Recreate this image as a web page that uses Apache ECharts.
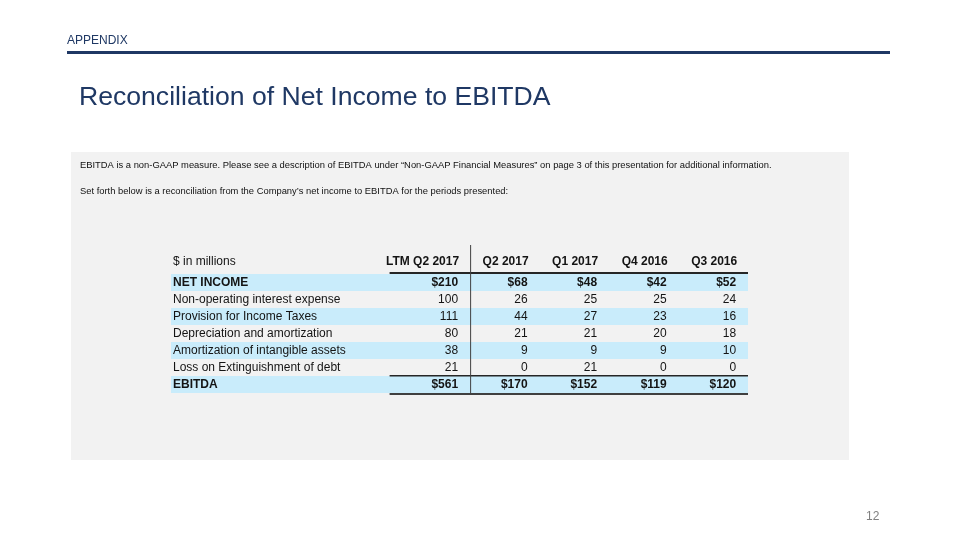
<!DOCTYPE html>
<html>
<head>
<meta charset="utf-8">
<script src="https://cdn.jsdelivr.net/npm/echarts@6/dist/echarts.min.js"></script>
<style>html,body{margin:0;padding:0;background:#fff}#c{width:960px;height:540px}</style>
</head>
<body>
<div id="c"></div>
<script>
// ---- data ----
var rowLabels = ['NET INCOME', 'Non-operating interest expense', 'Provision for Income Taxes',
  'Depreciation and amortization', 'Amortization of intangible assets',
  'Loss on Extinguishment of debt', 'EBITDA'];
var columnLabels = ['LTM Q2 2017', 'Q2 2017', 'Q1 2017', 'Q4 2016', 'Q3 2016'];
var ltmQ2_2017 = [210, 100, 111, 80, 38, 21, 561];
var q2_2017 = [68, 26, 44, 21, 9, 0, 170];
var q1_2017 = [48, 25, 27, 21, 9, 21, 152];
var q4_2016 = [42, 25, 23, 20, 9, 0, 119];
var q3_2016 = [52, 24, 16, 18, 10, 0, 120];
var unitLabel = '$ in millions';
var dollarRows = [0, 6];       // rows shown with $ and bold
var shadedRows = [0, 2, 4, 6]; // rows with blue band
var noteLines = [
  'EBITDA is a non-GAAP measure. Please see a description of EBITDA under \u201cNon-GAAP Financial Measures\u201d on page 3 of this presentation for additional information.',
  'Set forth below is a reconciliation from the Company\u2019s net income to EBITDA for the periods presented:'
];
var sectionLabel = 'APPENDIX';
var titleText = 'Reconciliation of Net Income to EBITDA';
var pageNumber = '12';

// ---- build ----
var columns = [ltmQ2_2017, q2_2017, q1_2017, q4_2016, q3_2016];
var FONT = '"Liberation Sans", Arial, sans-serif';
var NAVY = '#1f3864';
var TXT = '#141414';
var X_MIN = -3.13, X_MAX = 5.17;

var cellData = [];
columns.forEach(function (col, ci) {
  col.forEach(function (v, ri) { cellData.push([ci + 1, ri, v]); });
});

var chart = echarts.init(document.getElementById('c'), null, {renderer: 'canvas'});

function rowTop(api, ri) {
  var c = api.coord([X_MIN, ri]);
  return c[1] - api.size([0, 1])[1] / 2;
}

var option = {
  backgroundColor: '#ffffff',
  animation: false,
  graphic: [
    {type: 'rect', shape: {x: 71, y: 152, width: 778, height: 308}, style: {fill: '#f2f2f2'}, z: -10},
    {type: 'text', left: 67, top: 35, style: {text: sectionLabel, font: '12px ' + FONT, fill: NAVY}},
    {type: 'rect', shape: {x: 67, y: 51, width: 823, height: 3}, style: {fill: NAVY}},
    {type: 'text', left: 79, top: 84, style: {text: titleText, font: '26.6px ' + FONT, fill: NAVY}},
    {type: 'text', left: 80, top: 161, style: {text: noteLines[0], font: '9.4px ' + FONT, fill: '#111'}},
    {type: 'text', left: 80, top: 187, style: {text: noteLines[1], font: '9.4px ' + FONT, fill: '#111'}},
    {type: 'text', left: 866, top: 511, style: {text: pageNumber, font: '12px ' + FONT, fill: '#808080'}}
  ],
  grid: {left: 171, top: 274, width: 577, height: 119, containLabel: false},
  xAxis: {type: 'value', min: X_MIN, max: X_MAX, show: false},
  yAxis: {type: 'category', data: rowLabels, inverse: true, show: false},
  series: [
    { // shaded bands
      type: 'custom', z: 1,
      data: shadedRows.map(function (r) { return [X_MIN, r]; }),
      renderItem: function (params, api) {
        var r = api.value(1);
        var x0 = api.coord([X_MIN, r])[0], x1 = api.coord([X_MAX, r])[0];
        var h = api.size([0, 1])[1];
        return {type: 'rect', shape: {x: x0, y: rowTop(api, r), width: x1 - x0, height: h},
          style: {fill: '#c9ecfb'}};
      }
    },
    { // row labels
      type: 'custom', z: 3,
      data: rowLabels.map(function (l, i) { return [X_MIN, i]; }),
      renderItem: function (params, api) {
        var r = api.value(1);
        var p = api.coord([X_MIN, r]);
        var bold = dollarRows.indexOf(r) >= 0;
        return {type: 'text', x: p[0] + 2, y: p[1],
          style: {text: rowLabels[r], font: (bold ? 'bold ' : '') + '12px ' + FONT,
            fill: TXT, textAlign: 'left', textVerticalAlign: 'middle'}};
      }
    },
    { // values
      type: 'custom', z: 3,
      data: cellData,
      renderItem: function (params, api) {
        var c = api.value(0), r = api.value(1), v = api.value(2);
        var p = api.coord([c, r]);
        var bold = dollarRows.indexOf(r) >= 0;
        return {type: 'text', x: p[0], y: p[1],
          style: {text: (bold ? '$' : '') + v, font: (bold ? 'bold ' : '') + '12px ' + FONT,
            fill: TXT, textAlign: 'right', textVerticalAlign: 'middle'}};
      }
    },
    { // headers + rules
      type: 'custom', z: 4,
      data: [[X_MIN, 0]],
      renderItem: function (params, api) {
        var top = rowTop(api, 0);
        var h = api.size([0, 1])[1];
        var bottom = top + h * rowLabels.length;
        var xl = api.coord([X_MIN, 0])[0];
        var xr = api.coord([X_MAX, 0])[0];
        var xc0 = api.coord([0, 0])[0];
        var xv = api.coord([1, 0])[0] + 12;
        var ch = [];
        ch.push({type: 'text', x: xl + 2, y: top - 12,
          style: {text: unitLabel, font: '12px ' + FONT, fill: TXT, textAlign: 'left', textVerticalAlign: 'middle'}});
        columnLabels.forEach(function (lab, i) {
          ch.push({type: 'text', x: api.coord([i + 1, 0])[0] + 1, y: top - 12,
            style: {text: lab, font: 'bold 12px ' + FONT, fill: TXT, textAlign: 'right', textVerticalAlign: 'middle'}});
        });
        // header rule
        ch.push({type: 'rect', shape: {x: xc0 + 1, y: top - 2, width: xr - xc0 - 1, height: 2}, style: {fill: '#262626'}});
        // rule above total
        var lastTop = top + h * (rowLabels.length - 1);
        ch.push({type: 'rect', shape: {x: xc0 + 1, y: lastTop - 1, width: xr - xc0 - 1, height: 1.5}, style: {fill: '#262626'}});
        // rule below total
        ch.push({type: 'rect', shape: {x: xc0 + 1, y: bottom, width: xr - xc0 - 1, height: 2}, style: {fill: '#404040'}});
        // vertical divider
        ch.push({type: 'rect', shape: {x: xv, y: top - 29, width: 1, height: bottom - top + 29}, style: {fill: '#404040'}});
        return {type: 'group', children: ch};
      }
    }
  ]
};
chart.setOption(option);
</script>
</body>
</html>
